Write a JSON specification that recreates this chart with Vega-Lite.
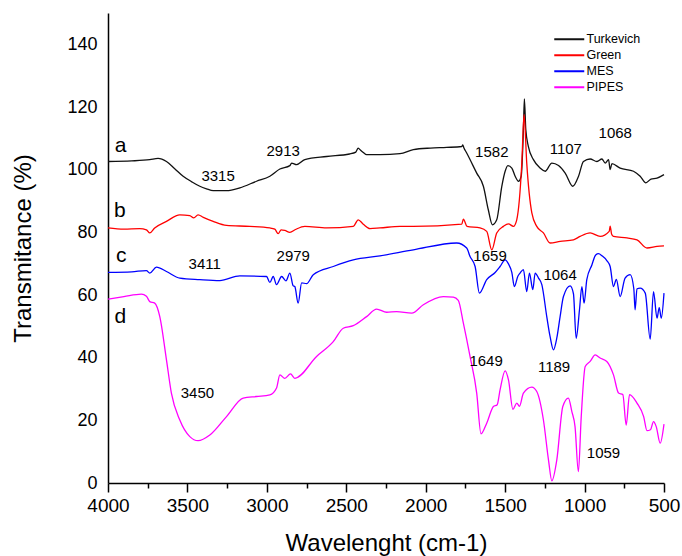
{
  "$schema": "https://vega.github.io/schema/vega-lite/v6.json",
  "autosize": {"type": "none"},
  "width": 556,
  "height": 470,
  "padding": {"left": 108, "top": 13, "right": 18, "bottom": 73},
  "background": "white",
  "config": {
    "view": {"stroke": null},
    "font": "Liberation Sans",
    "axis": {"grid": false, "domainColor": "black", "domainWidth": 1.5, "labelColor": "black", "titleColor": "black", "labelFont": "Liberation Sans", "titleFont": "Liberation Sans", "titleFontWeight": "normal", "labelFlush": false}
  },
  "resolve": {"axis": {"x": "independent"}},
  "datasets": {
    "spectra": [
      {"s":"Turkevich","w":4000,"t":102.6},{"s":"Turkevich","w":3850,"t":102.8},{"s":"Turkevich","w":3737,"t":103.2},{"s":"Turkevich","w":3685,"t":103.6},{"s":"Turkevich","w":3632,"t":102.6},{"s":"Turkevich","w":3580,"t":100.3},{"s":"Turkevich","w":3527,"t":97.9},{"s":"Turkevich","w":3475,"t":96.2},{"s":"Turkevich","w":3422,"t":94.7},{"s":"Turkevich","w":3380,"t":93.9},{"s":"Turkevich","w":3338,"t":93.3},{"s":"Turkevich","w":3254,"t":93.3},{"s":"Turkevich","w":3170,"t":94.2},{"s":"Turkevich","w":3065,"t":96.3},{"s":"Turkevich","w":2981,"t":97.9},{"s":"Turkevich","w":2918,"t":100.2},{"s":"Turkevich","w":2855,"t":101.3},{"s":"Turkevich","w":2844,"t":102.1},{"s":"Turkevich","w":2813,"t":101.6},{"s":"Turkevich","w":2761,"t":103.2},{"s":"Turkevich","w":2624,"t":104.2},{"s":"Turkevich","w":2480,"t":105.0},{"s":"Turkevich","w":2440,"t":105.6},{"s":"Turkevich","w":2425,"t":106.9},{"s":"Turkevich","w":2410,"t":106.2},{"s":"Turkevich","w":2393,"t":105.5},{"s":"Turkevich","w":2372,"t":104.8},{"s":"Turkevich","w":2288,"t":104.8},{"s":"Turkevich","w":2162,"t":105.1},{"s":"Turkevich","w":2078,"t":106.4},{"s":"Turkevich","w":1970,"t":106.9},{"s":"Turkevich","w":1868,"t":107.1},{"s":"Turkevich","w":1773,"t":107.4},{"s":"Turkevich","w":1767,"t":107.9},{"s":"Turkevich","w":1760,"t":107.0},{"s":"Turkevich","w":1742,"t":105.3},{"s":"Turkevich","w":1679,"t":98.9},{"s":"Turkevich","w":1637,"t":94.7},{"s":"Turkevich","w":1606,"t":87.2},{"s":"Turkevich","w":1580,"t":82.4},{"s":"Turkevich","w":1553,"t":84.0},{"s":"Turkevich","w":1521,"t":94.7},{"s":"Turkevich","w":1500,"t":99.5},{"s":"Turkevich","w":1483,"t":101.3},{"s":"Turkevich","w":1458,"t":100.5},{"s":"Turkevich","w":1437,"t":97.9},{"s":"Turkevich","w":1416,"t":96.3},{"s":"Turkevich","w":1399,"t":97.9},{"s":"Turkevich","w":1385,"t":112.8},{"s":"Turkevich","w":1379,"t":122.6},{"s":"Turkevich","w":1370,"t":112.8},{"s":"Turkevich","w":1354,"t":107.4},{"s":"Turkevich","w":1322,"t":103.2},{"s":"Turkevich","w":1280,"t":100.5},{"s":"Turkevich","w":1248,"t":99.5},{"s":"Turkevich","w":1206,"t":102.1},{"s":"Turkevich","w":1164,"t":101.3},{"s":"Turkevich","w":1122,"t":98.9},{"s":"Turkevich","w":1074,"t":94.7},{"s":"Turkevich","w":1038,"t":97.9},{"s":"Turkevich","w":1007,"t":102.6},{"s":"Turkevich","w":965,"t":103.4},{"s":"Turkevich","w":922,"t":102.6},{"s":"Turkevich","w":891,"t":103.4},{"s":"Turkevich","w":870,"t":102.1},{"s":"Turkevich","w":849,"t":103.2},{"s":"Turkevich","w":839,"t":100.0},{"s":"Turkevich","w":828,"t":101.9},{"s":"Turkevich","w":776,"t":100.5},{"s":"Turkevich","w":692,"t":99.5},{"s":"Turkevich","w":650,"t":97.9},{"s":"Turkevich","w":614,"t":95.8},{"s":"Turkevich","w":582,"t":97.0},{"s":"Turkevich","w":544,"t":97.3},{"s":"Turkevich","w":500,"t":98.4},
      {"s":"Green","w":4000,"t":81.4},{"s":"Green","w":3900,"t":81.0},{"s":"Green","w":3800,"t":81.2},{"s":"Green","w":3758,"t":80.8},{"s":"Green","w":3737,"t":79.8},{"s":"Green","w":3706,"t":81.4},{"s":"Green","w":3632,"t":83.5},{"s":"Green","w":3548,"t":85.6},{"s":"Green","w":3485,"t":85.3},{"s":"Green","w":3460,"t":84.6},{"s":"Green","w":3433,"t":85.6},{"s":"Green","w":3400,"t":84.8},{"s":"Green","w":3338,"t":83.5},{"s":"Green","w":3254,"t":82.2},{"s":"Green","w":3107,"t":81.9},{"s":"Green","w":2981,"t":81.4},{"s":"Green","w":2950,"t":81.0},{"s":"Green","w":2929,"t":79.6},{"s":"Green","w":2910,"t":80.8},{"s":"Green","w":2887,"t":80.6},{"s":"Green","w":2855,"t":80.0},{"s":"Green","w":2820,"t":80.9},{"s":"Green","w":2761,"t":81.9},{"s":"Green","w":2624,"t":81.4},{"s":"Green","w":2456,"t":81.9},{"s":"Green","w":2425,"t":84.0},{"s":"Green","w":2393,"t":82.6},{"s":"Green","w":2351,"t":81.2},{"s":"Green","w":2288,"t":81.4},{"s":"Green","w":2162,"t":81.9},{"s":"Green","w":2078,"t":81.9},{"s":"Green","w":1773,"t":82.6},{"s":"Green","w":1763,"t":84.2},{"s":"Green","w":1740,"t":81.9},{"s":"Green","w":1658,"t":81.4},{"s":"Green","w":1616,"t":80.3},{"s":"Green","w":1584,"t":74.4},{"s":"Green","w":1553,"t":79.8},{"s":"Green","w":1511,"t":81.9},{"s":"Green","w":1479,"t":82.7},{"s":"Green","w":1448,"t":81.9},{"s":"Green","w":1427,"t":84.0},{"s":"Green","w":1395,"t":102.1},{"s":"Green","w":1381,"t":117.6},{"s":"Green","w":1364,"t":102.1},{"s":"Green","w":1332,"t":86.2},{"s":"Green","w":1301,"t":81.9},{"s":"Green","w":1259,"t":79.8},{"s":"Green","w":1217,"t":76.6},{"s":"Green","w":1154,"t":77.1},{"s":"Green","w":1070,"t":77.6},{"s":"Green","w":1028,"t":78.7},{"s":"Green","w":965,"t":79.8},{"s":"Green","w":902,"t":78.7},{"s":"Green","w":845,"t":80.3},{"s":"Green","w":839,"t":82.0},{"s":"Green","w":830,"t":79.5},{"s":"Green","w":818,"t":78.7},{"s":"Green","w":733,"t":78.2},{"s":"Green","w":670,"t":77.6},{"s":"Green","w":607,"t":75.0},{"s":"Green","w":544,"t":75.5},{"s":"Green","w":500,"t":75.7},
      {"s":"MES","w":4000,"t":67.2},{"s":"MES","w":3850,"t":67.4},{"s":"MES","w":3758,"t":67.8},{"s":"MES","w":3737,"t":67.0},{"s":"MES","w":3695,"t":68.9},{"s":"MES","w":3632,"t":67.5},{"s":"MES","w":3548,"t":65.4},{"s":"MES","w":3422,"t":64.9},{"s":"MES","w":3296,"t":64.6},{"s":"MES","w":3170,"t":66.1},{"s":"MES","w":3002,"t":65.9},{"s":"MES","w":2981,"t":64.0},{"s":"MES","w":2960,"t":65.9},{"s":"MES","w":2939,"t":63.3},{"s":"MES","w":2907,"t":65.9},{"s":"MES","w":2880,"t":64.5},{"s":"MES","w":2855,"t":67.0},{"s":"MES","w":2835,"t":63.0},{"s":"MES","w":2824,"t":62.7},{"s":"MES","w":2803,"t":57.4},{"s":"MES","w":2781,"t":63.9},{"s":"MES","w":2750,"t":63.6},{"s":"MES","w":2708,"t":66.5},{"s":"MES","w":2582,"t":69.1},{"s":"MES","w":2456,"t":71.2},{"s":"MES","w":2288,"t":72.5},{"s":"MES","w":2078,"t":74.4},{"s":"MES","w":1805,"t":76.6},{"s":"MES","w":1742,"t":75.0},{"s":"MES","w":1721,"t":72.3},{"s":"MES","w":1689,"t":69.1},{"s":"MES","w":1662,"t":60.6},{"s":"MES","w":1616,"t":64.9},{"s":"MES","w":1563,"t":67.2},{"s":"MES","w":1532,"t":69.1},{"s":"MES","w":1500,"t":71.2},{"s":"MES","w":1480,"t":70.0},{"s":"MES","w":1458,"t":67.2},{"s":"MES","w":1442,"t":62.7},{"s":"MES","w":1420,"t":66.0},{"s":"MES","w":1406,"t":67.0},{"s":"MES","w":1385,"t":68.1},{"s":"MES","w":1364,"t":61.1},{"s":"MES","w":1347,"t":67.0},{"s":"MES","w":1326,"t":61.7},{"s":"MES","w":1311,"t":67.0},{"s":"MES","w":1290,"t":65.4},{"s":"MES","w":1269,"t":63.3},{"s":"MES","w":1238,"t":53.1},{"s":"MES","w":1217,"t":46.7},{"s":"MES","w":1196,"t":42.5},{"s":"MES","w":1175,"t":46.2},{"s":"MES","w":1154,"t":53.1},{"s":"MES","w":1133,"t":59.5},{"s":"MES","w":1091,"t":62.9},{"s":"MES","w":1070,"t":60.4},{"s":"MES","w":1053,"t":46.2},{"s":"MES","w":1032,"t":55.3},{"s":"MES","w":1017,"t":62.7},{"s":"MES","w":1003,"t":57.4},{"s":"MES","w":986,"t":64.9},{"s":"MES","w":954,"t":69.6},{"s":"MES","w":930,"t":72.8},{"s":"MES","w":912,"t":73.2},{"s":"MES","w":890,"t":72.5},{"s":"MES","w":860,"t":71.0},{"s":"MES","w":839,"t":69.1},{"s":"MES","w":818,"t":62.7},{"s":"MES","w":800,"t":65.0},{"s":"MES","w":776,"t":59.5},{"s":"MES","w":745,"t":65.4},{"s":"MES","w":713,"t":66.5},{"s":"MES","w":690,"t":62.0},{"s":"MES","w":682,"t":55.3},{"s":"MES","w":670,"t":62.0},{"s":"MES","w":650,"t":62.2},{"s":"MES","w":618,"t":60.6},{"s":"MES","w":587,"t":45.9},{"s":"MES","w":566,"t":61.1},{"s":"MES","w":544,"t":52.6},{"s":"MES","w":530,"t":56.0},{"s":"MES","w":517,"t":52.6},{"s":"MES","w":500,"t":60.6},
      {"s":"PIPES","w":4000,"t":58.7},{"s":"PIPES","w":3900,"t":59.5},{"s":"PIPES","w":3790,"t":60.3},{"s":"PIPES","w":3758,"t":59.6},{"s":"PIPES","w":3737,"t":57.9},{"s":"PIPES","w":3706,"t":57.4},{"s":"PIPES","w":3674,"t":53.1},{"s":"PIPES","w":3632,"t":39.3},{"s":"PIPES","w":3601,"t":28.7},{"s":"PIPES","w":3548,"t":20.1},{"s":"PIPES","w":3485,"t":14.8},{"s":"PIPES","w":3433,"t":13.5},{"s":"PIPES","w":3359,"t":15.3},{"s":"PIPES","w":3254,"t":21.2},{"s":"PIPES","w":3149,"t":27.1},{"s":"PIPES","w":3065,"t":27.6},{"s":"PIPES","w":2981,"t":28.1},{"s":"PIPES","w":2939,"t":30.3},{"s":"PIPES","w":2918,"t":34.5},{"s":"PIPES","w":2887,"t":33.4},{"s":"PIPES","w":2851,"t":34.8},{"s":"PIPES","w":2824,"t":33.4},{"s":"PIPES","w":2687,"t":40.4},{"s":"PIPES","w":2582,"t":45.1},{"s":"PIPES","w":2519,"t":49.4},{"s":"PIPES","w":2456,"t":50.2},{"s":"PIPES","w":2372,"t":53.1},{"s":"PIPES","w":2309,"t":55.5},{"s":"PIPES","w":2246,"t":54.5},{"s":"PIPES","w":2183,"t":54.7},{"s":"PIPES","w":2088,"t":54.2},{"s":"PIPES","w":2015,"t":56.9},{"s":"PIPES","w":1889,"t":59.5},{"s":"PIPES","w":1826,"t":59.3},{"s":"PIPES","w":1795,"t":58.3},{"s":"PIPES","w":1763,"t":51.0},{"s":"PIPES","w":1721,"t":40.4},{"s":"PIPES","w":1679,"t":28.7},{"s":"PIPES","w":1652,"t":15.7},{"s":"PIPES","w":1616,"t":19.1},{"s":"PIPES","w":1574,"t":24.4},{"s":"PIPES","w":1550,"t":25.0},{"s":"PIPES","w":1532,"t":29.7},{"s":"PIPES","w":1500,"t":35.8},{"s":"PIPES","w":1479,"t":32.9},{"s":"PIPES","w":1451,"t":23.5},{"s":"PIPES","w":1427,"t":25.5},{"s":"PIPES","w":1410,"t":24.5},{"s":"PIPES","w":1385,"t":28.7},{"s":"PIPES","w":1332,"t":30.6},{"s":"PIPES","w":1301,"t":29.2},{"s":"PIPES","w":1259,"t":20.1},{"s":"PIPES","w":1227,"t":7.3},{"s":"PIPES","w":1206,"t":0.7},{"s":"PIPES","w":1175,"t":7.3},{"s":"PIPES","w":1137,"t":24.4},{"s":"PIPES","w":1102,"t":27.1},{"s":"PIPES","w":1080,"t":22.8},{"s":"PIPES","w":1060,"t":18.0},{"s":"PIPES","w":1039,"t":3.6},{"s":"PIPES","w":1021,"t":21.2},{"s":"PIPES","w":996,"t":37.2},{"s":"PIPES","w":965,"t":38.8},{"s":"PIPES","w":933,"t":40.9},{"s":"PIPES","w":902,"t":39.9},{"s":"PIPES","w":860,"t":38.8},{"s":"PIPES","w":818,"t":34.5},{"s":"PIPES","w":786,"t":28.7},{"s":"PIPES","w":759,"t":28.2},{"s":"PIPES","w":738,"t":18.5},{"s":"PIPES","w":717,"t":28.2},{"s":"PIPES","w":670,"t":25.5},{"s":"PIPES","w":628,"t":21.2},{"s":"PIPES","w":607,"t":16.7},{"s":"PIPES","w":585,"t":17.0},{"s":"PIPES","w":566,"t":19.6},{"s":"PIPES","w":549,"t":18.0},{"s":"PIPES","w":524,"t":12.7},{"s":"PIPES","w":500,"t":18.8}
    ],
    "letters": [
      {"w":3920,"t":107.5,"label":"a"},
      {"w":3926,"t":86.7,"label":"b"},
      {"w":3916,"t":72.3,"label":"c"},
      {"w":3922,"t":53.1,"label":"d"}
    ],
    "peaks": [
      {"w":3307,"t":97.9,"label":"3315"},
      {"w":2897,"t":106.1,"label":"2913"},
      {"w":3391,"t":69.9,"label":"3411"},
      {"w":2834,"t":72.3,"label":"2979"},
      {"w":1584,"t":105.5,"label":"1582"},
      {"w":1118,"t":106.6,"label":"1107"},
      {"w":807,"t":111.7,"label":"1068"},
      {"w":1595,"t":72.3,"label":"1659"},
      {"w":1154,"t":66.5,"label":"1064"},
      {"w":1620,"t":38.8,"label":"1649"},
      {"w":1192,"t":37.0,"label":"1189"},
      {"w":3437,"t":28.8,"label":"3450"},
      {"w":881,"t":9.5,"label":"1059"}
    ]
  },
  "layer": [
    {
      "data": {"name": "spectra"},
      "mark": {"type": "line", "strokeWidth": 1.3, "interpolate": "monotone"},
      "encoding": {
        "x": {"field": "w", "type": "quantitative", "sort": null,
          "scale": {"domain": [500, 4000], "reverse": true, "nice": false, "zero": false},
          "axis": {"orient": "bottom", "title": "Wavelenght (cm-1)", "titleFontSize": 24, "titlePadding": 16,
            "values": [4000,3500,3000,2500,2000,1500,1000,500], "ticks": true, "tickSize": 9, "tickColor": "black", "tickWidth": 1.5,
            "format": "d", "labelFontSize": 19, "labelPadding": 4}},
        "y": {"field": "t", "type": "quantitative",
          "scale": {"domain": [0, 150], "nice": false},
          "axis": {"title": "Transmitance (%)", "titleFontSize": 24, "titlePadding": 31,
            "values": [0,20,40,60,80,100,120,140], "ticks": false, "labelPadding": 11, "labelFontSize": 18}},
        "color": {"field": "s", "type": "nominal",
          "scale": {"domain": ["Turkevich","Green","MES","PIPES"], "range": ["#111111","#ff0000","#0000ff","#ff00ff"]},
          "legend": {"title": null, "orient": "none", "legendX": 455, "legendY": 20,
            "symbolType": "M-3,0H3", "symbolSize": 100, "symbolStrokeWidth": 2,
            "labelFontSize": 12.5, "labelFont": "Liberation Sans", "labelColor": "black", "rowPadding": 3, "labelOffset": 11}},
        "detail": {"field": "s"}
      }
    },
    {
      "data": {"name": "letters"},
      "mark": {"type": "text", "fontSize": 21, "font": "Liberation Sans", "color": "black"},
      "encoding": {
        "x": {"field": "w", "type": "quantitative",
          "axis": {"orient": "bottom", "title": null, "labels": false, "domain": false, "ticks": true, "tickSize": 5, "tickColor": "black", "tickWidth": 1.5,
            "values": [3750,3250,2750,2250,1750,1250,750]}},
        "y": {"field": "t", "type": "quantitative"},
        "text": {"field": "label"}
      }
    },
    {
      "data": {"name": "peaks"},
      "mark": {"type": "text", "fontSize": 15, "font": "Liberation Sans", "color": "black"},
      "encoding": {
        "x": {"field": "w", "type": "quantitative", "axis": null},
        "y": {"field": "t", "type": "quantitative"},
        "text": {"field": "label"}
      }
    }
  ]
}
